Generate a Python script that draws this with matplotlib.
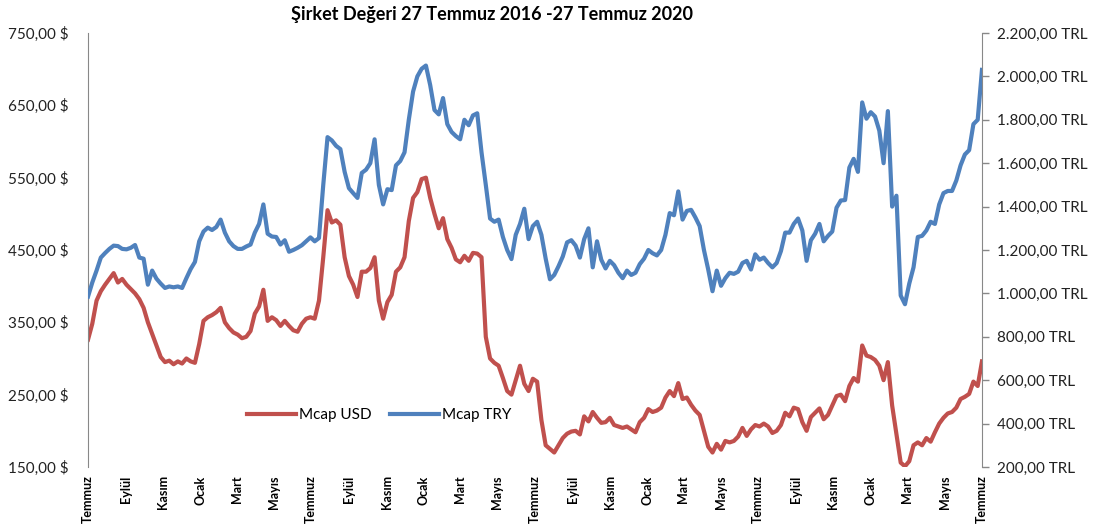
import matplotlib.pyplot as plt
import matplotlib.ticker as mticker
import pandas as pd

# weekly readings, 27 Jul 2016 -> 27 Jul 2020
mcap_usd = [
    326, 348, 380, 393, 402, 410, 418, 405, 410, 402,
    396, 390, 382, 370, 350, 334, 318, 302, 295, 297,
    292, 296, 293, 300, 296, 294, 320, 352, 357, 360,
    364, 370, 350, 342, 336, 333, 328, 330, 338, 362,
    372, 395, 352, 357, 353, 345, 352, 345, 339, 337,
    348, 355, 357, 355, 380, 440, 505, 488, 491, 485,
    440, 414, 402, 385, 420, 420, 425, 440, 380, 355,
    378, 388, 420, 426, 440, 490, 522, 530, 548, 550,
    522, 500, 480, 494, 465, 453, 437, 433, 442, 435,
    446, 445, 440, 330, 300, 294, 290, 273, 255, 250,
    270, 290, 265, 255, 272, 268, 215, 180, 175, 170,
    180, 190, 196, 199, 200, 195, 220, 213, 226, 218,
    211, 212, 218, 208, 206, 204, 206, 202, 198, 212,
    218, 230, 226, 228, 232, 246, 255, 248, 266, 244,
    246, 236, 228, 222, 200, 178, 170, 182, 174, 186,
    184, 186, 192, 204, 193, 202, 208, 206, 210, 206,
    197, 200, 208, 225, 220, 232, 230, 212, 200, 219,
    225, 231, 216, 222, 235, 248, 250, 241, 262, 273,
    268, 318, 304, 302, 298, 290, 270, 295, 235, 195,
    156, 151, 158, 180, 184, 180, 190, 185, 198, 210,
    218, 224, 226, 232, 244, 247, 251, 268, 262, 296,
]

mcap_try = [
    985, 1050, 1105, 1165, 1186, 1205, 1220, 1218, 1205, 1203,
    1210, 1223, 1165, 1160, 1040, 1105, 1068, 1045, 1025, 1032,
    1028, 1032, 1025, 1070, 1112, 1145, 1240, 1285, 1303, 1292,
    1306, 1340, 1280, 1240, 1218, 1205, 1205, 1216, 1225, 1280,
    1320, 1410, 1275, 1262, 1260, 1225, 1245, 1192, 1200, 1210,
    1222, 1240, 1258, 1240, 1255, 1500, 1720, 1705, 1680, 1665,
    1560, 1485, 1462, 1440, 1555, 1570, 1600, 1710, 1500, 1410,
    1480, 1476, 1590, 1610, 1650, 1800, 1930, 2000, 2035, 2050,
    1960, 1845, 1825, 1900, 1780, 1744, 1725, 1710, 1800, 1775,
    1820, 1830, 1650, 1500, 1345, 1330, 1340, 1260, 1200, 1158,
    1270, 1320, 1390, 1250, 1310, 1330, 1270, 1160, 1065, 1085,
    1125, 1170, 1235, 1245, 1220, 1165, 1250, 1300, 1120, 1240,
    1155, 1115, 1150, 1130, 1095, 1070, 1105, 1085, 1095, 1135,
    1160, 1200, 1185, 1175, 1200, 1270, 1370, 1360, 1470, 1340,
    1380, 1385, 1350, 1310, 1200, 1110, 1010, 1105, 1035, 1070,
    1095, 1090, 1100, 1140, 1150, 1110, 1180, 1155, 1165, 1140,
    1120, 1140, 1195, 1280, 1280, 1320, 1345, 1290, 1150, 1245,
    1275, 1320, 1240, 1265, 1285, 1395, 1428, 1430, 1580, 1620,
    1560, 1880, 1805, 1835, 1815, 1750, 1600, 1840, 1400, 1450,
    990, 950, 1045, 1120, 1260, 1265, 1290, 1330, 1320, 1410,
    1462, 1472, 1472, 1520, 1590, 1640, 1660, 1780, 1800, 2030,
]

month_labels = ['Temmuz', 'Eylül', 'Kasım', 'Ocak', 'Mart', 'Mayıs'] * 4 + ['Temmuz']

dates = pd.date_range('2016-07-27', '2020-07-27', periods=len(mcap_usd))
tick_dates = pd.date_range('2016-07-27', periods=len(month_labels), freq=pd.DateOffset(months=2))

plt.rcParams['font.family'] = ['Lato', 'DejaVu Sans']

fig = plt.figure(figsize=(11, 5.32), dpi=100)
ax = fig.add_axes([0.08, 0.1222, 0.8127, 0.8158])
ax2 = ax.twinx()

red = '#C0504D'
blue = '#4F81BD'
l1, = ax.plot(dates, mcap_usd, color=red, lw=3.0, label='Mcap USD')
l2, = ax2.plot(dates, mcap_try, color=blue, lw=3.0, label='Mcap TRY')

ax.set_ylim(150, 750)
ax.set_yticks(range(150, 751, 100))
ax.yaxis.set_major_formatter(mticker.FuncFormatter(lambda v, p: f'{v:.2f}'.replace('.', ',') + ' $'))
ax2.set_ylim(200, 2200)
ax2.set_yticks(range(200, 2201, 200))


def trl(v, p):
    s = f'{v:,.2f}'
    s = s.replace(',', 'X').replace('.', ',').replace('X', '.')
    return s + ' TRL'


ax2.yaxis.set_major_formatter(mticker.FuncFormatter(trl))

ax.set_xlim(pd.Timestamp('2016-07-27'), pd.Timestamp('2020-07-27'))
ax.set_xticks(tick_dates)
ax.set_xticklabels(month_labels, rotation=90, fontsize=9, fontweight='bold')
ax.tick_params(axis='x', length=0, pad=6)
ax.tick_params(axis='y', length=0, labelsize=11, colors='#222222', pad=14)
ax2.tick_params(axis='y', length=5, width=1, color='#888888', labelsize=11, labelcolor='#222222', pad=6)

for a in (ax, ax2):
    a.spines['top'].set_visible(False)
    a.spines['bottom'].set_visible(False)
ax.spines['right'].set_visible(False)
ax2.spines['left'].set_visible(False)
ax.spines['left'].set_color('#888888')
ax2.spines['right'].set_color('#888888')

ax2.legend(handles=[l1, l2], loc='center', bbox_to_anchor=(0.326, 0.12), ncol=2,
           frameon=False, fontsize=11, handlelength=3.2, handletextpad=0.2, columnspacing=1.2)

fig.text(0.447, 0.972, 'Şirket Değeri 27 Temmuz 2016 -27 Temmuz 2020', ha='center', va='center',
         fontsize=13, fontweight='bold')

fig.savefig('out.png', dpi=100)
